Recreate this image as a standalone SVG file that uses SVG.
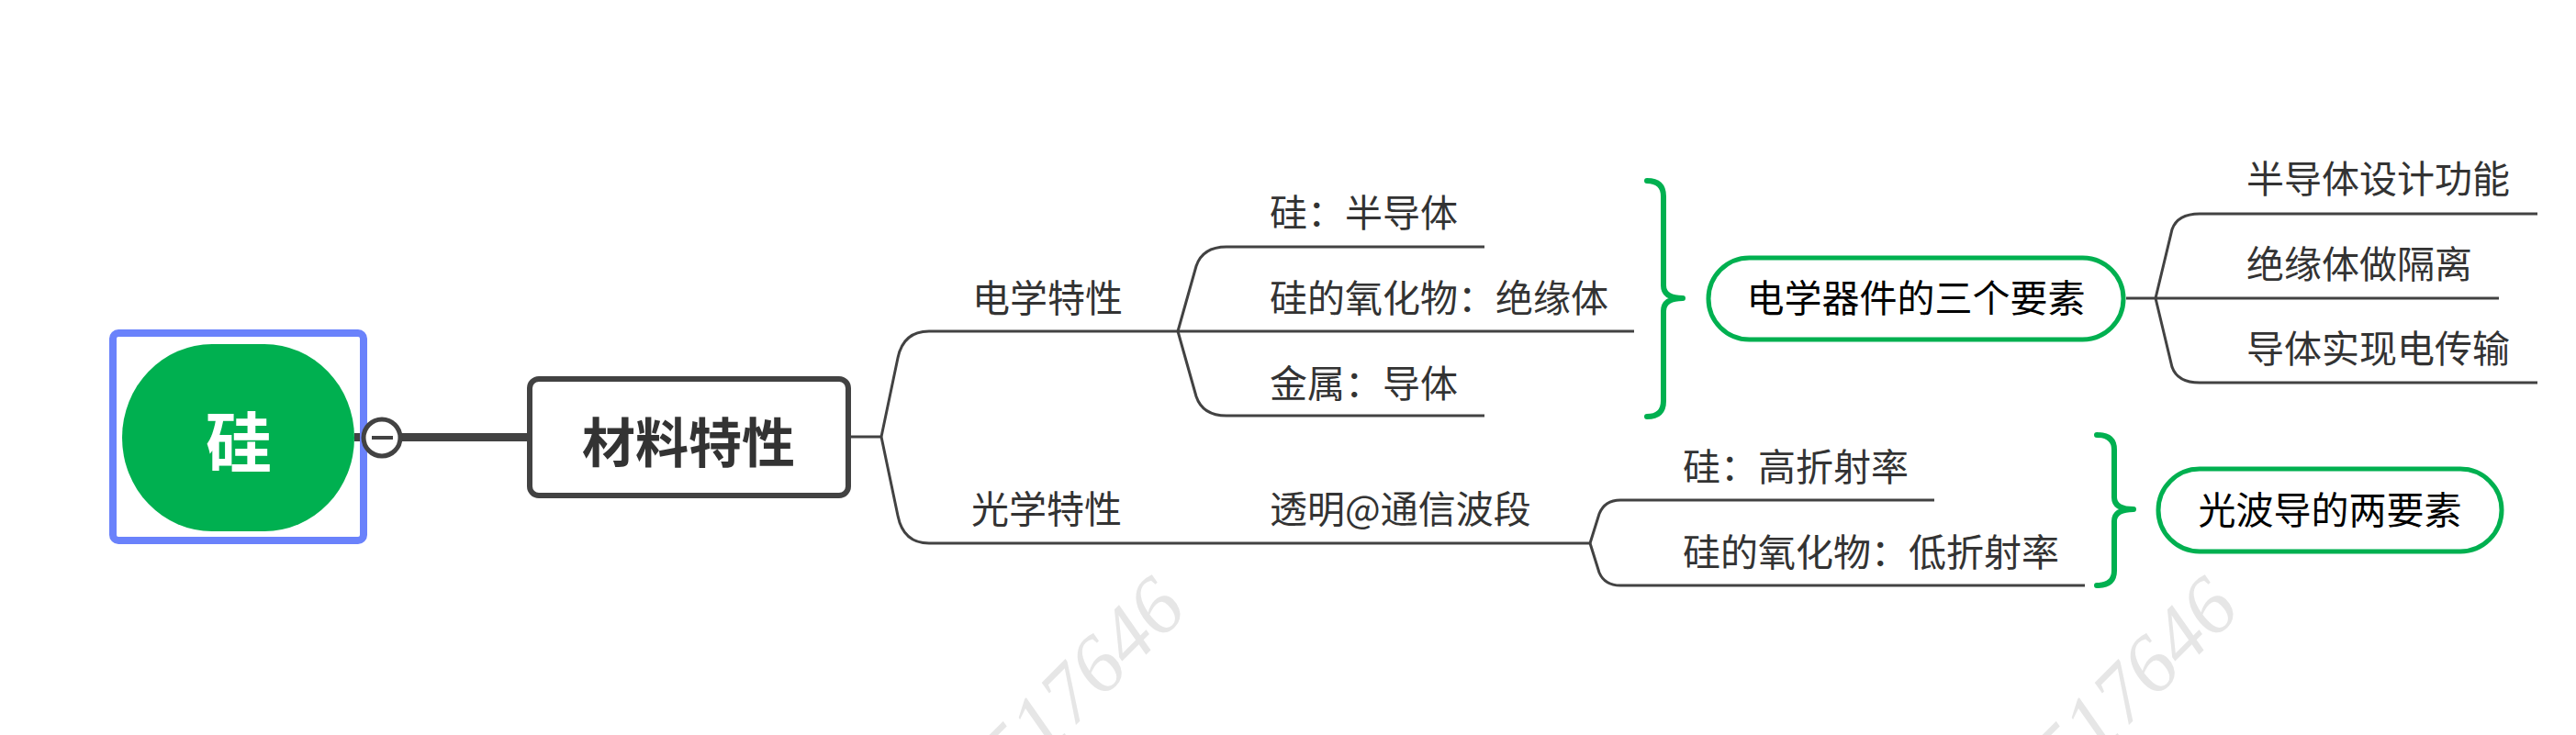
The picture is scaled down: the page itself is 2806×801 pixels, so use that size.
<svg xmlns="http://www.w3.org/2000/svg" width="2806" height="801" viewBox="0 0 2806 801">
<style>
.bg{fill:#ffffff}
.ln{fill:none;stroke:#424242;stroke-width:3;stroke-linecap:butt}
.br{fill:none;stroke:#00B050;stroke-width:6;stroke-linecap:round;stroke-linejoin:round}
.t{font-family:"Noto Sans CJK SC","Microsoft YaHei",sans-serif;font-size:41px;fill:#333333}
.tb{font-family:"Noto Sans CJK SC","Microsoft YaHei",sans-serif;font-size:41px;fill:#000000;text-anchor:middle}
.pill{fill:#ffffff;stroke:#00B050;stroke-width:5}
.wm{font-family:"Liberation Serif",serif;font-style:italic;font-size:90px;fill:#e6e6e6;text-anchor:middle}
</style>
<rect class="bg" x="0" y="0" width="2806" height="801"/>
<g id="watermarks">
<text class="wm" transform="translate(1200,762) rotate(-45)">517646</text>
<text class="wm" transform="translate(2347,762) rotate(-45)">517646</text>
</g>
<g id="connectors">
<line x1="386" y1="476.5" x2="577" y2="476.5" stroke="#424242" stroke-width="9"/>
<path class="ln" d="M927 476 L960 476"/>
<path class="ln" d="M960 476 L978 390 Q984 361 1012 361 L1283 361"/>
<path class="ln" d="M960 476 L978 562 Q984 592 1012 592 L1732 592"/>
<path class="ln" d="M1283 361 L1303 290 Q1310 269 1336 269 L1617 269"/>
<path class="ln" d="M1283 361 L1780 361"/>
<path class="ln" d="M1283 361 L1303 432 Q1310 453 1336 453 L1617 453"/>
<path class="ln" d="M1732 592 L1742 560 Q1748 545 1765 545 L2107 545"/>
<path class="ln" d="M1732 592 L1742 624 Q1748 638 1765 638 L2271 638"/>
<path class="ln" d="M2316 325 L2722 325"/>
<path class="ln" d="M2348 325 L2366 250 Q2372 233 2396 233 L2764 233"/>
<path class="ln" d="M2348 325 L2366 400 Q2372 417 2396 417 L2764 417"/>
</g>
<g id="brackets">
<path class="br" d="M1794 197 Q1812 197 1812 214 L1812 311 Q1812 325 1833 325 Q1812 325 1812 339 L1812 437 Q1812 454 1794 454"/>
<path class="br" d="M2284 474 Q2303 474 2303 490 L2303 542 Q2303 555 2324 555 Q2303 555 2303 568 L2303 622 Q2303 638 2284 638"/>
</g>
<g id="node-root">
<rect x="123" y="363" width="273" height="226" rx="6" fill="none" stroke="#6A82FB" stroke-width="8"/>
<rect x="133" y="375" width="253" height="204" rx="98" ry="102" fill="#00B050"/>
<text x="260" y="509" text-anchor="middle" font-family="'Noto Sans CJK SC','Microsoft YaHei',sans-serif" font-size="72" font-weight="bold" fill="#ffffff">硅</text>
</g>
<g id="collapse">
<circle cx="416" cy="477" r="20" fill="#ffffff" stroke="#424242" stroke-width="5"/>
<line x1="405" y1="477" x2="428" y2="477" stroke="#424242" stroke-width="4"/>
</g>
<g id="node-material">
<rect x="577" y="413" width="347" height="127" rx="10" fill="#ffffff" stroke="#424242" stroke-width="6"/>
<text x="750" y="504" text-anchor="middle" font-family="'Noto Sans CJK SC','Microsoft YaHei',sans-serif" font-size="58" font-weight="bold" fill="#333333">材料特性</text>
</g>
<g id="node-electric"><text class="t" x="1059" y="340">电学特性</text></g>
<g id="node-optical"><text class="t" x="1058" y="570">光学特性</text></g>
<g id="node-si-semi"><text class="t" x="1383" y="247">硅：半导体</text></g>
<g id="node-oxide-ins"><text class="t" x="1383" y="340">硅的氧化物：绝缘体</text></g>
<g id="node-metal"><text class="t" x="1383" y="433">金属：导体</text></g>
<g id="node-transparent"><text class="t" x="1383" y="570">透明@通信波段</text></g>
<g id="node-si-high"><text class="t" x="1833" y="524">硅：高折射率</text></g>
<g id="node-oxide-low"><text class="t" x="1833" y="617">硅的氧化物：低折射率</text></g>
<g id="node-three">
<rect class="pill" x="1861" y="281" width="452" height="89" rx="44.5"/>
<text class="tb" x="2087" y="340">电学器件的三个要素</text>
</g>
<g id="node-two">
<rect class="pill" x="2351" y="511" width="374" height="90" rx="45"/>
<text class="tb" x="2538" y="571">光波导的两要素</text>
</g>
<g id="node-semi-func"><text class="t" x="2447" y="210">半导体设计功能</text></g>
<g id="node-ins-iso"><text class="t" x="2447" y="303">绝缘体做隔离</text></g>
<g id="node-cond"><text class="t" x="2447" y="395">导体实现电传输</text></g>
</svg>
